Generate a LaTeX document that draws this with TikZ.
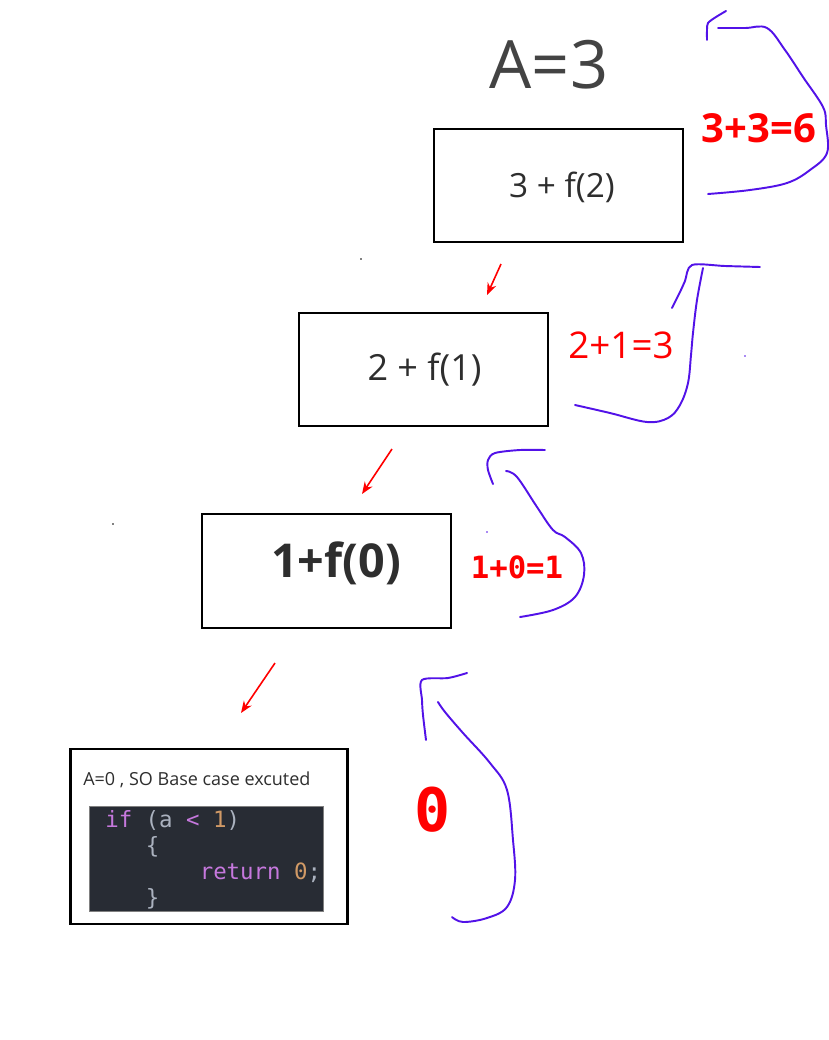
\documentclass[tikz,border=0pt]{standalone}
\usepackage{fontspec}
\setmainfont{Open Sans}
\newfontfamily\monof{DejaVu Sans Mono}
\usetikzlibrary{arrows.meta}
\definecolor{txt}{HTML}{2E2E2E}
\definecolor{pen}{RGB}{82,18,232}
\definecolor{codebg}{HTML}{282C34}
\definecolor{kw}{HTML}{C678DD}
\definecolor{num}{HTML}{D19A66}
\definecolor{plain}{HTML}{ABB2BF}
\tikzset{
  callbox/.style={draw=black, line width=1.5pt, fill=white, inner sep=0pt},
  calltext/.style={text=txt, inner sep=0pt, anchor=base},
  redlbl/.style={text=red, inner sep=0pt, anchor=base},
  redarrow/.style={draw=red, line width=1.2pt, -{Stealth[length=9pt,width=7pt]}},
  penline/.style={draw=pen, line width=1.45pt, line cap=round, line join=round},
  codeline/.style={inner sep=0pt, anchor=base west, font=\monof\fontsize{16.8pt}{20pt}\selectfont},
  dot/.style={circle, fill=#1, inner sep=0pt, minimum size=1.4pt}
}
\begin{document}
\begin{tikzpicture}[x=0.75pt,y=-0.75pt]
\useasboundingbox (0,0) rectangle (829,1040);

% title
\node[calltext, text=txt!90, font=\fontsize{50pt}{60pt}\selectfont] (title) at (549,88) {A=3};

% call boxes
\node[callbox, minimum width=186.75pt, minimum height=84.75pt] (b1) at (558.5,185.5) {};
\node[callbox, minimum width=186.75pt, minimum height=84.75pt] (b2) at (423.5,369.5) {};
\node[callbox, minimum width=186.75pt, minimum height=85.5pt] (b3) at (326.5,571) {};
\node[calltext, font=\fontsize{25pt}{30pt}\selectfont] (t1) at (562,197) {3 + f(2)};
\node[calltext, font=\fontsize{27pt}{32pt}\selectfont] (t2) at (424.5,380) {2 + f(1)};
\node[calltext, font=\bfseries\fontsize{35pt}{42pt}\selectfont] (t3) at (336,577) {1+f(0)};

% base case box
\node[draw=black, line width=2.2pt, fill=white, minimum width=207.75pt, minimum height=131.25pt, inner sep=0pt] (b4) at (209,836.5) {};
\node[inner sep=0pt, anchor=base west, text=txt, font=\fontsize{13.5pt}{16pt}\selectfont] (t4) at (83,785) {A=0 , SO Base case excuted};
\node[draw=gray, line width=0.6pt, fill=codebg, minimum width=175.5pt, minimum height=78.75pt, inner sep=0pt] (code) at (206,858.5) {};
\begin{scope}
\clip (89,806) rectangle (323,910);
\node[codeline] (c1) at (105,827) {\textcolor{kw}{if} \textcolor{plain}{(a} \textcolor{kw}{<} \textcolor{num}{1}\textcolor{plain}{)}};
\node[codeline, text=plain] (c2) at (145.5,853) {\{};
\node[codeline] (c3) at (199.5,879) {\textcolor{kw}{return} \textcolor{num}{0}\textcolor{plain}{;}};
\node[codeline, text=plain] (c4) at (145.5,905) {\}};
\end{scope}

% red result labels
\node[redlbl, font=\bfseries\fontsize{30pt}{36pt}\selectfont] (r1) at (759,142) {3+3=6};
\node[redlbl, font=\fontsize{27.6pt}{33pt}\selectfont] (r2) at (621,358) {2+1=3};
\node[redlbl, font=\monof\bfseries\fontsize{23pt}{28pt}\selectfont] (r3) at (517,578) {1+0=1};
\node[redlbl, font=\monof\bfseries\fontsize{45pt}{54pt}\selectfont] (r4) at (433,831) {0};

% red call arrows
\coordinate (a1s) at (501,264); \coordinate (a1e) at (487,295);
\coordinate (a2s) at (392,449); \coordinate (a2e) at (362,494);
\coordinate (a3s) at (275,663); \coordinate (a3e) at (241,713);
\draw[redarrow] (a1s) -- (a1e);
\draw[redarrow] (a2s) -- (a2e);
\draw[redarrow] (a3s) -- (a3e);

% blue freehand return strokes
\draw[penline] plot[smooth, tension=0.6] coordinates {(708,194) (750,190) (787,183) (810,170) (827,153) (826,125) (823,107) (803,77) (785,50) (767,28) (745,28) (718,28)};
\draw[penline] plot[smooth, tension=0.5] coordinates {(707,40) (707,30) (708,23) (716,17) (726,11)};

\draw[penline] plot[smooth, tension=0.6] coordinates {(575,405) (610,413) (647,422) (668,418) (680,405) (688,383) (691,355) (693,333) (697,300) (703,268)};
\draw[penline] plot[smooth, tension=0.5] coordinates {(672,308) (680,292) (685,281) (692,265) (725,266) (760,267)};

\draw[penline] plot[smooth, tension=0.6] coordinates {(520,617) (553,610) (575,597) (584,575) (581,553) (565,537) (553,530) (537,507) (517,477) (506,471)};
\draw[penline] plot[smooth, tension=0.5] coordinates {(493,484) (488,470) (488,460) (495,453) (520,450) (545,450)};

\draw[penline] plot[smooth, tension=0.6] coordinates {(452,917) (463,922) (487,918) (507,907) (515,880) (513,840) (507,790) (490,763) (463,733) (445,712) (438,702)};
\draw[penline] plot[smooth, tension=0.5] coordinates {(426,740) (423,715) (422,700) (422,680) (448,678) (467,673)};

% stray dots
\node[dot=black] (d1) at (361,259) {};
\node[dot=black] (d2) at (113,524) {};
\node[dot=pen] (d3) at (745,356) {};
\node[dot=pen] (d4) at (487,532) {};
\node[dot=black, minimum size=1pt] (d5) at (432,368) {};
\end{tikzpicture}
\end{document}
